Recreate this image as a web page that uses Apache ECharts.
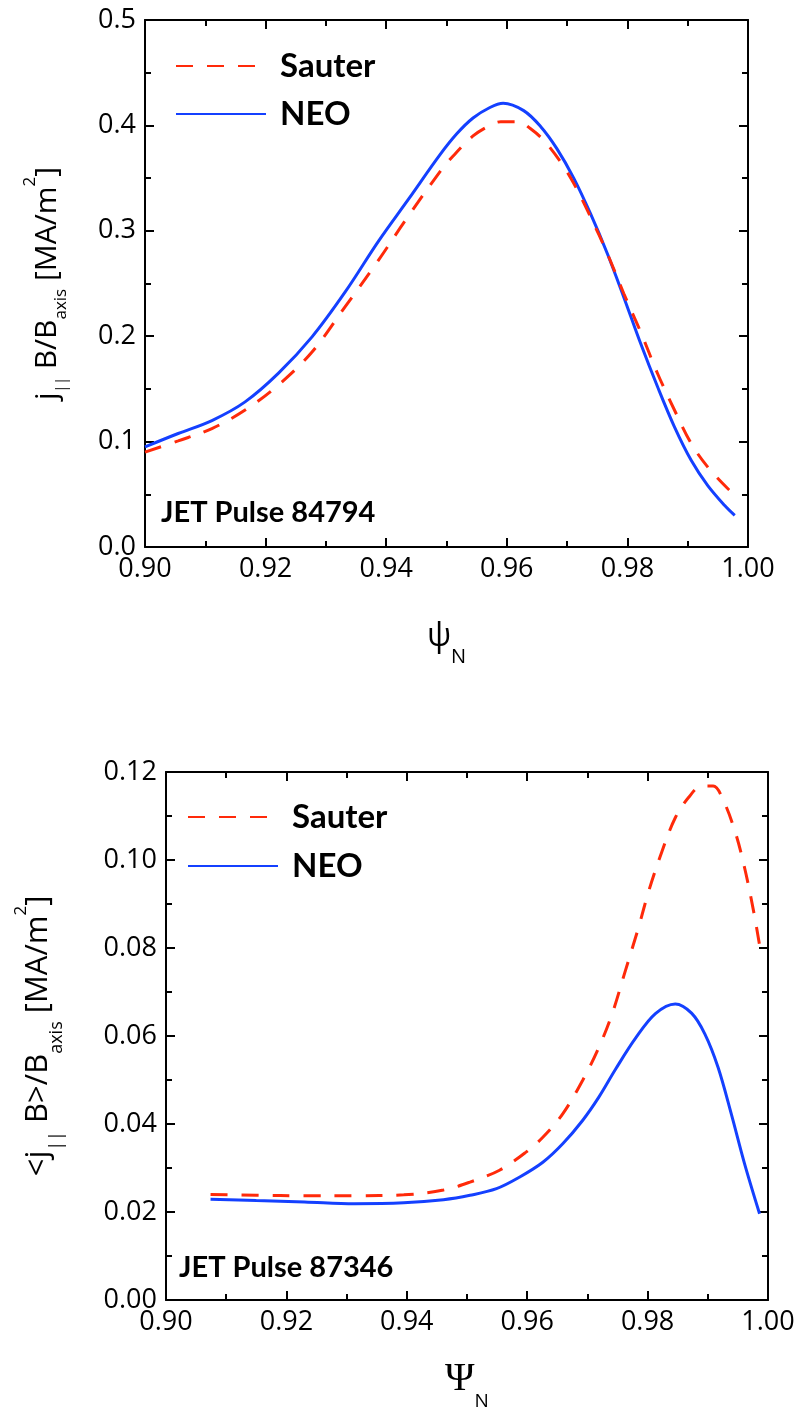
<!DOCTYPE html>
<html>
<head>
<meta charset="utf-8">
<script src="https://cdn.jsdelivr.net/npm/echarts@6/dist/echarts.min.js"></script>
<style>
html,body{margin:0;padding:0;background:#fff;}
#chart{width:800px;height:1412px;}
</style>
</head>
<body>
<div id="chart"></div>
<script>
// ---- Data (x = psi_N, y = current density) ----
const seriesNames = ['Sauter', 'NEO'];

// Top panel: JET Pulse 84794
const topSauter = [
  [0.900,0.090],[0.9055,0.1007],[0.9111,0.1124],[0.9166,0.130],[0.9221,0.1536],
  [0.9277,0.185],[0.9332,0.228],[0.9387,0.272],[0.9432,0.310],[0.9489,0.356],
  [0.9511,0.371],[0.9544,0.390],[0.9572,0.400],[0.9590,0.4035],[0.9620,0.4035],
  [0.9639,0.397],[0.9661,0.386],[0.9689,0.3655],[0.9711,0.345],[0.9739,0.313],
  [0.9767,0.278],[0.9794,0.2405],[0.9822,0.204],[0.9850,0.1646],[0.9878,0.130],
  [0.9906,0.098],[0.9933,0.076],[0.9961,0.0585],[0.9969,0.054]
];
const topNEO = [
  [0.900,0.095],[0.9055,0.1077],[0.9111,0.120],[0.9166,0.1377],[0.9221,0.1647],
  [0.9277,0.1994],[0.9332,0.242],[0.9387,0.290],[0.9437,0.330],[0.9489,0.372],
  [0.9517,0.392],[0.9544,0.407],[0.9572,0.417],[0.9594,0.421],[0.9628,0.414],
  [0.9656,0.399],[0.9683,0.378],[0.9711,0.350],[0.9739,0.316],[0.9767,0.278],
  [0.9794,0.237],[0.9822,0.193],[0.9850,0.152],[0.9878,0.114],[0.9906,0.082],
  [0.9933,0.0585],[0.9961,0.0396],[0.9978,0.030]
];

// Bottom panel: JET Pulse 87346
const botSauter = [
  [0.9074,0.0240],[0.915,0.0238],[0.923,0.0237],[0.9313,0.0237],[0.9395,0.0239],
  [0.9461,0.0250],[0.9505,0.0268],[0.9554,0.0295],[0.9598,0.0336],[0.9626,0.0370],
  [0.9659,0.0423],[0.9692,0.0499],[0.9719,0.0574],[0.9741,0.0650],[0.9763,0.0748],
  [0.9785,0.0847],[0.9802,0.0930],[0.9824,0.1020],[0.9846,0.1096],[0.9868,0.1142],
  [0.9890,0.1168],[0.9909,0.1168],[0.9925,0.1138],[0.9945,0.1066],[0.9961,0.0983],
  [0.9977,0.0877],[0.9987,0.0798]
];
const botNEO = [
  [0.9074,0.0229],[0.915,0.0226],[0.923,0.0223],[0.9313,0.0219],[0.9395,0.0221],
  [0.9461,0.0228],[0.9505,0.0238],[0.9549,0.0253],[0.9587,0.0279],[0.9626,0.0313],
  [0.9659,0.0355],[0.9692,0.0408],[0.9719,0.0461],[0.9747,0.0525],[0.9780,0.0595],
  [0.9813,0.0651],[0.9846,0.0673],[0.9873,0.0652],[0.9895,0.0605],[0.9917,0.0529],
  [0.9939,0.0423],[0.9961,0.0310],[0.9986,0.0196]
];

// Axis ranges / ticks
const xRange = {min:0.90, max:1.00, interval:0.02};
const topYRange = {min:0, max:0.5, interval:0.1};
const botYRange = {min:0, max:0.12, interval:0.02};
const annotations = ['JET Pulse 84794', 'JET Pulse 87346'];

// ---- Styling ----
const RED = '#ff2a0a', BLUE = '#1440ff';
const SANS = 'Open Sans';
const LABEL_SIZE = 27;
const axisLineStyle = {color:'#000', width:2};

function axisBase(range, fmtDigits, showLabel){
  return {
    type:'value', min:range.min, max:range.max, interval:range.interval,
    axisLine:{show:true, onZero:false, lineStyle:axisLineStyle},
    axisTick:{show:true, inside:true, length:9, lineStyle:{color:'#000', width:2}},
    minorTick:{show:true, splitNumber:2, length:6, lineStyle:{color:'#000', width:2}},
    splitLine:{show:false},
    axisLabel:{show:showLabel, margin:9, color:'#000', fontFamily:SANS, fontSize:LABEL_SIZE,
      formatter:v=>v.toFixed(fmtDigits)}
  };
}

const chart = echarts.init(document.getElementById('chart'), null, {renderer:'canvas'});

const xTop0 = Object.assign(axisBase(xRange,2,true), {gridIndex:0, position:'bottom',
  name:'{t|ψ}{s|N}', nameLocation:'middle', nameGap:60,
  nameTextStyle:{rich:{
    t:{fontFamily:SANS, fontSize:32, lineHeight:60, color:'#000'},
    s:{fontFamily:SANS, fontSize:20, lineHeight:16, verticalAlign:'bottom', color:'#000'}
  }}
});
const xTop1 = Object.assign(axisBase(xRange,2,false), {gridIndex:0, position:'top'});
const xBot0 = Object.assign(axisBase(xRange,2,true), {gridIndex:1, position:'bottom',
  name:'{t|Ψ}{s|N}', nameLocation:'middle', nameGap:47,
  nameTextStyle:{rich:{
    t:{fontFamily:'Liberation Serif', fontSize:40, lineHeight:64, color:'#000'},
    s:{fontFamily:SANS, fontSize:19, lineHeight:15, verticalAlign:'bottom', color:'#000'}
  }}
});
const xBot1 = Object.assign(axisBase(xRange,2,false), {gridIndex:1, position:'top'});

const yTop0 = Object.assign(axisBase(topYRange,1,true), {gridIndex:0, position:'left',
  name:'{t|j}{s1|||}{t| B/B}{s|axis}{t| [MA/m}{p|2}{t|]}', nameLocation:'middle', nameRotate:90, nameGap:68,
  nameTextStyle:{rich:{
    t:{fontFamily:SANS, fontSize:30, lineHeight:60, color:'#000'},
    s:{fontFamily:SANS, fontSize:17, lineHeight:17, verticalAlign:'bottom', padding:[0,0,7,0], color:'#000'},
    s1:{fontFamily:SANS, fontSize:14, lineHeight:14, verticalAlign:'bottom', padding:[0,0,8,0], color:'#000'},
    p:{fontFamily:SANS, fontSize:17, lineHeight:17, verticalAlign:'top', padding:[5,0,0,0], color:'#000'}
  }}
});
const yTop1 = Object.assign(axisBase(topYRange,1,false), {gridIndex:0, position:'right'});
const yBot0 = Object.assign(axisBase(botYRange,2,true), {gridIndex:1, position:'left',
  name:'{t|<j}{s1|||}{t| B>/B}{s|axis}{t| [MA/m}{p|2}{t|]}', nameLocation:'middle', nameRotate:90, nameGap:98,
  nameTextStyle:{rich:{
    t:{fontFamily:SANS, fontSize:31, lineHeight:60, color:'#000'},
    s:{fontFamily:SANS, fontSize:18, lineHeight:18, verticalAlign:'bottom', padding:[0,0,2,0], color:'#000'},
    s1:{fontFamily:SANS, fontSize:18, lineHeight:18, verticalAlign:'bottom', padding:[0,0,2,0], color:'#000'},
    p:{fontFamily:SANS, fontSize:17, lineHeight:17, verticalAlign:'top', padding:[5,0,0,0], color:'#000'}
  }}
});
const yBot1 = Object.assign(axisBase(botYRange,2,false), {gridIndex:1, position:'right'});

function lineSeries(name, data, xi, yi, color, dashed){
  return {
    name, type:'line', data, xAxisIndex:xi, yAxisIndex:yi,
    symbol:'none', smooth:0.35,
    lineStyle:{color, width:3, type: dashed ? [17,14] : 'solid'},
    itemStyle:{color}, z: dashed ? 3 : 2
  };
}

const legendText = {fontFamily:'Lato', fontWeight:'bold', fontSize:33, lineHeight:38, color:'#000', padding:[0,0,0,9]};
const legendCommon = {data:seriesNames, orient:'vertical', itemWidth:90, itemHeight:14,
  selectedMode:false, textStyle:legendText, itemStyle:{opacity:0}};

chart.setOption({
  animation:false,
  backgroundColor:'#fff',
  grid:[
    {left:145, top:20, width:603, height:527},
    {left:160, top:772, width:608, height:529}
  ],
  xAxis:[xTop0, xTop1, xBot0, xBot1],
  yAxis:[yTop0, yTop1, yBot0, yBot1],
  legend:[
    Object.assign({left:170, top:42, itemGap:10}, legendCommon),
    Object.assign({left:182, top:793, itemGap:11}, legendCommon)
  ],
  series:[
    lineSeries(seriesNames[0], topSauter, 0, 0, RED, true),
    lineSeries(seriesNames[1], topNEO, 0, 0, BLUE, false),
    lineSeries(seriesNames[0], botSauter, 2, 2, RED, true),
    lineSeries(seriesNames[1], botNEO, 2, 2, BLUE, false)
  ],
  graphic:[
    {type:'text', left:161, top:498, style:{text:annotations[0], font:'bold 29px Lato', fill:'#000'}},
    {type:'text', left:179, top:1253, style:{text:annotations[1], font:'bold 29px Lato', fill:'#000'}}
  ]
});
</script>
</body>
</html>
